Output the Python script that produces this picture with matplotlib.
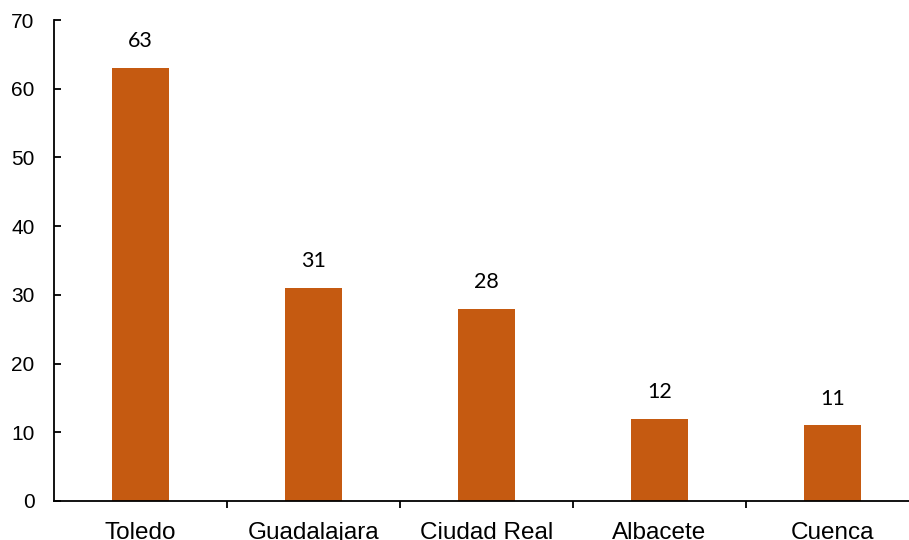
import matplotlib
matplotlib.use("Agg")
import matplotlib.pyplot as plt
import numpy as np

categories = ["Toledo", "Guadalajara", "Ciudad Real", "Albacete", "Cuenca"]
values = [63, 31, 28, 12, 11]
yticks = [0, 10, 20, 30, 40, 50, 60, 70]

fig = plt.figure(figsize=(9.09, 5.40), dpi=100)
ax = fig.add_axes([54/909, 39/540, 865/909, 481/540])

x = np.arange(len(categories))
ax.bar(x, values, width=0.335, color="#C55A11", zorder=2)

for xi, v in zip(x, values):
    ax.annotate(str(v), (xi, v), xytext=(0, 15), textcoords="offset points",
                ha="center", va="baseline", fontsize=15.5, family=["Lato", "DejaVu Sans"])

ax.set_xlim(-0.5, len(categories) - 0.5)
ax.set_ylim(0, 70)
ax.set_yticks(yticks)
ax.set_yticklabels([str(t) for t in yticks], family=["Liberation Sans"], fontsize=15)

ax.set_xticks(x)
ax.set_xticklabels(categories, family=["Liberation Sans"], fontsize=17.5)
ax.tick_params(axis="x", length=0, pad=15)
ax.set_xticks(np.arange(0.5, len(categories) - 0.5, 1), minor=True)
ax.tick_params(axis="x", which="minor", length=5, width=1.3, direction="out", color="black")
ax.tick_params(axis="y", length=5, width=1.3, direction="in", pad=14)

for s in ["top", "right"]:
    ax.spines[s].set_visible(False)
for s in ["left", "bottom"]:
    ax.spines[s].set_linewidth(1.3)

fig.savefig("out.png", dpi=100)
